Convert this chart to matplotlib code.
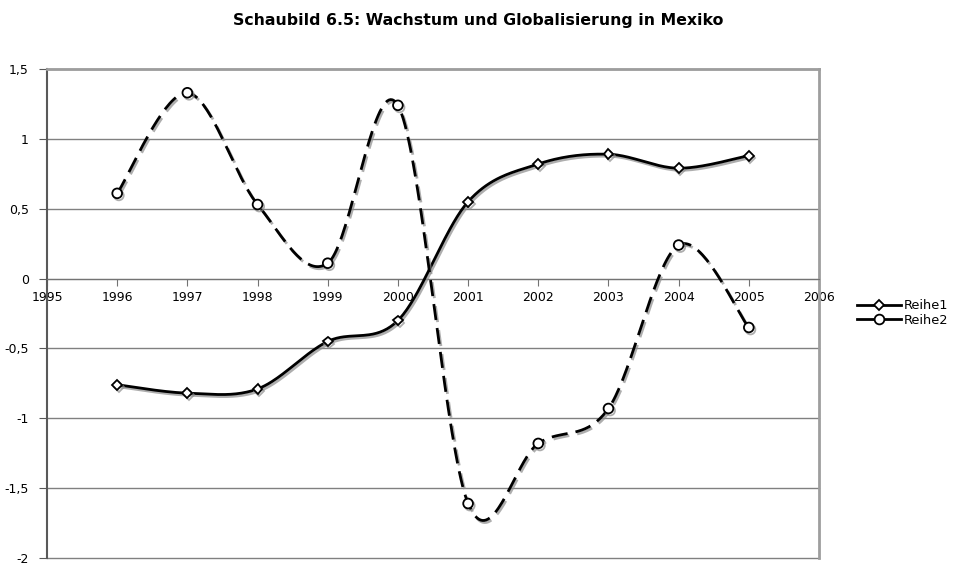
import numpy as np
import matplotlib
matplotlib.use("Agg")
import matplotlib.pyplot as plt
import matplotlib.patheffects as pe
from matplotlib.lines import Line2D
from matplotlib.ticker import FuncFormatter

years = [1996, 1997, 1998, 1999, 2000, 2001, 2002, 2003, 2004, 2005]
reihe1 = [-0.76, -0.82, -0.79, -0.45, -0.30, 0.55, 0.82, 0.89, 0.79, 0.88]
reihe2 = [0.61, 1.33, 0.53, 0.11, 1.24, -1.61, -1.18, -0.93, 0.24, -0.35]


def smooth(x, y, n=40):
    # Excel-artige Glättung (Bezier mit 1/6 Tangente)
    x = np.asarray(x, float); y = np.asarray(y, float)
    px = np.concatenate([[x[0]], x, [x[-1]]])
    py = np.concatenate([[y[0]], y, [y[-1]]])
    xs, ys = [], []
    t = np.linspace(0, 1, n)
    for i in range(1, len(px) - 2):
        p0 = np.array([px[i], py[i]])
        p3 = np.array([px[i + 1], py[i + 1]])
        c1 = p0 + (p3 - np.array([px[i - 1], py[i - 1]])) / 6
        c2 = p3 - (np.array([px[i + 2], py[i + 2]]) - p0) / 6
        b = ((1 - t) ** 3)[:, None] * p0 + (3 * (1 - t) ** 2 * t)[:, None] * c1 \
            + (3 * (1 - t) * t ** 2)[:, None] * c2 + (t ** 3)[:, None] * p3
        xs.extend(b[:, 0]); ys.extend(b[:, 1])
    return xs, ys


shadow = [pe.SimpleLineShadow(offset=(1.2, -1.5), shadow_color="0.55", alpha=0.7), pe.Normal()]
LW = 2.0

fig = plt.figure(figsize=(9.56, 5.67), dpi=100)
ax = fig.add_axes([47 / 956, 9 / 567, 772 / 956, 489 / 567])

sx, sy = smooth(years, reihe1)
ax.plot(sx, sy, color="black", lw=LW, path_effects=shadow, zorder=3)
ax.plot(years, reihe1, ls="none", marker="D", ms=5, mfc="white", mec="black", mew=1.3,
        path_effects=shadow, zorder=4)

sx, sy = smooth(years, reihe2)
ax.plot(sx, sy, color="black", lw=LW, dashes=(5.8, 2.9), path_effects=shadow, zorder=3)
ax.plot(years, reihe2, ls="none", marker="o", ms=7, mfc="white", mec="black", mew=1.3,
        path_effects=shadow, zorder=4)

ax.set_xlim(1995, 2006)
ax.set_ylim(-2, 1.5)
ax.set_xticks(range(1995, 2007))
ax.set_yticks(np.arange(-2, 1.51, 0.5))
ax.yaxis.set_major_formatter(FuncFormatter(lambda v, p: f"{v:g}".replace(".", ",")))
for v in np.arange(-2, 1.51, 0.5):
    ax.axhline(v, color="0.5", lw=1, zorder=1, clip_on=False)

ax.spines["bottom"].set_position(("data", 0))
ax.spines["bottom"].set_color("0.45")
ax.spines["left"].set_color("0.35")
ax.spines["left"].set_linewidth(1.5)
for s in ("top", "right"):
    ax.spines[s].set_color("0.62")
    ax.spines[s].set_linewidth(2)
ax.tick_params(axis="x", direction="out", length=5, color="0.45", labelsize=9, pad=4)
ax.tick_params(axis="y", direction="out", length=6, color="0.35", labelsize=9, pad=7)

fig.text(0.5, 1 - 20 / 567, "Schaubild 6.5: Wachstum und Globalisierung in Mexiko",
         ha="center", va="center", fontsize=11.3, fontweight="bold")

handles = [
    Line2D([], [], color="black", lw=LW, marker="D", ms=5, mfc="white", mec="black", mew=1.3),
    Line2D([], [], color="black", lw=LW, marker="o", ms=7, mfc="white", mec="black", mew=1.3),
]
fig.legend(handles, ["Reihe1", "Reihe2"], loc="center left",
           bbox_to_anchor=(845 / 956, 1 - 313 / 567), frameon=False, fontsize=9.3,
           handlelength=3.4, handletextpad=0.25, labelspacing=0.15)

fig.savefig("out.png", dpi=100)
